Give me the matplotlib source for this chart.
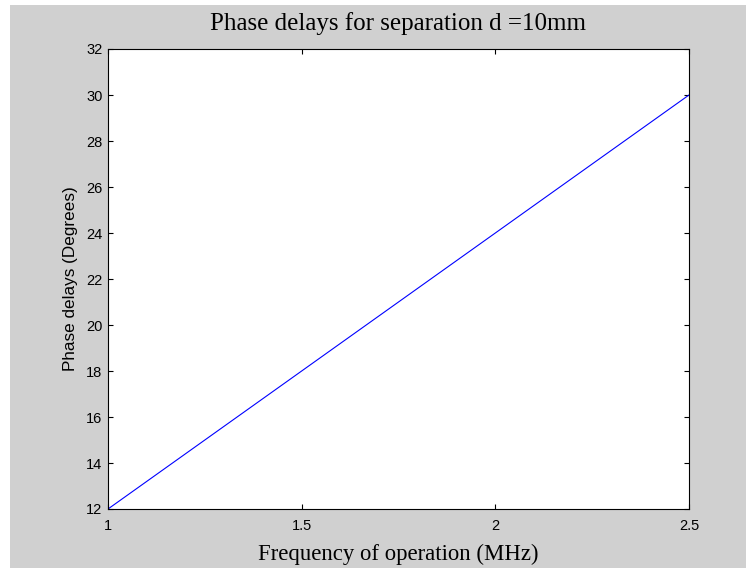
import matplotlib.pyplot as plt
from matplotlib.patches import Rectangle

freq_mhz = [1.0, 1.5, 2.0, 2.5]
phase_deg = [12, 18, 24, 30]
xticks = [1, 1.5, 2, 2.5]
xtick_labels = ["1", "1.5", "2", "2.5"]
yticks = [12, 14, 16, 18, 20, 22, 24, 26, 28, 30, 32]

bg = "#d0d0d0"
serif = ["Liberation Serif", "DejaVu Serif"]
sans = ["Liberation Sans", "DejaVu Sans"]

W, H = 746, 568
fig = plt.figure(figsize=(W / 100, H / 100), dpi=100, facecolor="white")
# gray window area (thin white strip on left and top, like the screenshot)
fig.patches.append(Rectangle((10 / W, 0), 1 - 10 / W, 1 - 5 / H,
                             transform=fig.transFigure, facecolor=bg,
                             edgecolor="none", zorder=-10))

ax = fig.add_axes([108 / W, 1 - 509 / H, (689 - 108) / W, (509 - 49) / H])
ax.plot(freq_mhz, phase_deg, color="blue", linewidth=0.8)

ax.set_xlim(1, 2.5)
ax.set_ylim(12, 32)
ax.set_xticks(xticks)
ax.set_xticklabels(xtick_labels)
ax.set_yticks(yticks)
ax.tick_params(direction="in", top=True, right=True, length=3.8, width=0.8,
               labelsize=10.5)
ax.tick_params(axis="x", pad=7)
ax.tick_params(axis="y", pad=4)
for lab in ax.get_xticklabels() + ax.get_yticklabels():
    lab.set_family(sans)
for s in ax.spines.values():
    s.set_linewidth(0.8)

ax.set_title("Phase delays for separation d =10mm", family=serif, fontsize=18, pad=14)
ax.set_xlabel("Frequency of operation (MHz)", family=serif, fontsize=16.4, labelpad=8)
ax.set_ylabel("Phase delays (Degrees)", family=sans, fontsize=12.3, labelpad=6)

fig.savefig("out.png", dpi=100, facecolor="white")
